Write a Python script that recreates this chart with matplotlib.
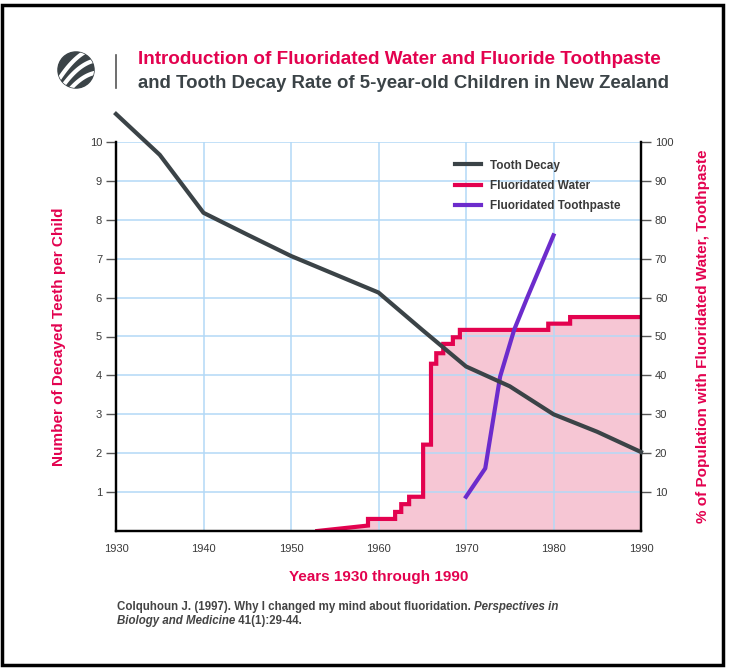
import matplotlib
matplotlib.use("Agg")
import matplotlib.pyplot as plt
import matplotlib.patches as mpatches
from matplotlib.lines import Line2D
import numpy as np

plt.rcParams['font.family'] = ['Liberation Sans', 'DejaVu Sans']

# tooth decay, decayed teeth per child
decay_years = [1930, 1935, 1940, 1945, 1950, 1960, 1965, 1970, 1975, 1980, 1985, 1990]
decay_teeth = [10.72, 9.67, 8.18, 7.62, 7.07, 6.13, 5.17, 4.23, 3.72, 3.0, 2.55, 2.03]

# fluoridated water: slow ramp then steps (% of population)
water_ramp_years = [1953, 1958.8]
water_ramp_pct = [0, 1.4]
water_step_years = [1958.8, 1961.9, 1962.6, 1963.5, 1965.1, 1966.0, 1966.6,
                    1967.4, 1968.5, 1969.3, 1979.4, 1981.9, 1990]
water_step_pct = [3.1, 4.9, 6.9, 8.8, 22.2, 43.0, 45.7,
                  48.1, 49.8, 51.7, 53.3, 55.0, 55.0]

# fluoridated toothpaste (% of population)
paste_years = [1970, 1972.2, 1973.9, 1975.5, 1977.0, 1980]
paste_pct = [8.8, 16.1, 39.7, 51.7, 60.0, 76.0]

RED = '#e3024f'
DARK = '#3b4347'
PURPLE = '#6c2ccc'
PINK = '#f6c6d4'
GRID = '#b3d9f7'
TXT = '#3a3a3a'

W, H = 729, 669
fig = plt.figure(figsize=(W / 100, H / 100), dpi=100)

def fx(px):
    return px / W

def fy(py):
    return 1 - py / H

ax = fig.add_axes([fx(116), fy(531), fx(641) - fx(116), fy(142) - fy(531)])
tw = ax.twinx()
ax.set_zorder(tw.get_zorder() + 1)
ax.patch.set_visible(False)

# build step path for water
wx = list(water_ramp_years)
wy = list(water_ramp_pct)
for i in range(len(water_step_years) - 1):
    wx += [water_step_years[i], water_step_years[i + 1]]
    wy += [water_step_pct[i], water_step_pct[i]]
wx.append(water_step_years[-1])
wy.append(water_step_pct[-1])

tw.fill_between(wx, 0, wy, color=PINK, lw=0, zorder=0.3)
tw.plot(wx, wy, color=RED, lw=3, solid_joinstyle='miter', zorder=2)
tw.plot(paste_years, paste_pct, color=PURPLE, lw=3, zorder=3)
ax.plot(decay_years, decay_teeth, color=DARK, lw=3, clip_on=False, zorder=3)

ax.set_xlim(1930, 1990)
ax.set_ylim(0, 10)
tw.set_ylim(0, 100)

# grid lives on the twin so it sits under the curves but over the fill
tw.xaxis.set_visible(True)
tw.set_xticks(np.arange(1930, 1991, 10))
tw.tick_params(axis='x', length=0, labelbottom=False, labeltop=False)
tw.set_yticks(np.arange(10, 101, 10))
tw.grid(True, color=GRID, lw=1.1, zorder=0.5)
tw.set_axisbelow(True)

ax.set_yticks(np.arange(1, 11))
ax.set_xticks(np.arange(1930, 1991, 10))
ax.set_xticks([1930, 1990], minor=True)
ax.tick_params(axis='x', which='major', length=0, pad=9, labelsize=8, labelcolor=TXT)
ax.tick_params(axis='x', which='minor', length=6, width=1.5, color='black')
ax.tick_params(axis='y', length=7, width=1, color='#555555', pad=3, labelsize=8, labelcolor=TXT)
tw.tick_params(axis='y', length=7, width=1, color='#555555', pad=3, labelsize=8, labelcolor=TXT)

for a in (ax, tw):
    a.spines['top'].set_visible(False)
    for s in ('left', 'right', 'bottom'):
        a.spines[s].set_linewidth(1.6)
        a.spines[s].set_color('black')

ax.set_xlabel('Years 1930 through 1990', color=RED, fontsize=11, fontweight='bold', labelpad=12)
ax.set_ylabel('Number of Decayed Teeth per Child', color=RED, fontsize=11, fontweight='bold', labelpad=17)
tw.set_ylabel('% of Population with Fluoridated Water, Toothpaste', color=RED, fontsize=11,
              fontweight='bold', labelpad=16)

handles = [Line2D([], [], color=DARK, lw=3), Line2D([], [], color=RED, lw=3),
           Line2D([], [], color=PURPLE, lw=3)]
leg = ax.legend(handles, ['Tooth Decay', 'Fluoridated Water', 'Fluoridated Toothpaste'],
                loc='upper left', bbox_to_anchor=(0.645, 0.955), frameon=False,
                borderpad=0, borderaxespad=0, handlelength=2.2, handletextpad=0.8,
                labelspacing=0.7, fontsize=8.5)
for t in leg.get_texts():
    t.set_color(TXT)
    t.set_fontweight('bold')

# title
fig.text(fx(138), fy(60), 'Introduction of Fluoridated Water and Fluoride Toothpaste',
         color=RED, fontsize=13.6, fontweight='bold', va='center', ha='left')
fig.text(fx(138), fy(83), 'and Tooth Decay Rate of 5-year-old Children in New Zealand',
         color=DARK, fontsize=13.4, fontweight='bold', va='center', ha='left')
fig.add_artist(Line2D([fx(116), fx(116)], [fy(55), fy(88)], color='#555555', lw=1.2))

# logo
lax = fig.add_axes([fx(56), fy(89), fx(40), fy(51) - fy(89)])
lax.set_xlim(-1, 1)
lax.set_ylim(-1, 1)
lax.set_aspect('equal')
lax.axis('off')
circ = mpatches.Circle((0, 0), 0.95, color=DARK)
lax.add_patch(circ)
tt = np.linspace(-1.2, 1.2, 100)
for off in [-0.7, -0.05, 0.6]:
    ln, = lax.plot(tt, 0.9 * tt + off - 0.35 * tt ** 2, color='white', lw=3)
    ln.set_clip_path(circ)

# citation
fig.canvas.draw()
r = fig.canvas.get_renderer()
t1 = fig.text(fx(117), fy(607), 'Colquhoun J. (1997). Why I changed my mind about fluoridation. ',
              color='#444444', fontsize=8.3, fontweight='bold', va='center')
bb = t1.get_window_extent(r)
fig.text(bb.x1 / W, fy(607), 'Perspectives in', color='#444444', fontsize=8.3,
         fontweight='bold', style='italic', va='center')
t2 = fig.text(fx(117), fy(621), 'Biology and Medicine', color='#444444', fontsize=8.3,
              fontweight='bold', style='italic', va='center')
bb2 = t2.get_window_extent(r)
fig.text(bb2.x1 / W, fy(621), ' 41(1):29-44.', color='#444444', fontsize=8.3,
         fontweight='bold', va='center')

# outer frame
fig.add_artist(mpatches.Rectangle((fx(2), fy(665)), fx(721) - fx(0), fy(5) - fy(665),
                                  fill=False, lw=2.5, edgecolor='black'))

fig.savefig('out.png', dpi=100)
